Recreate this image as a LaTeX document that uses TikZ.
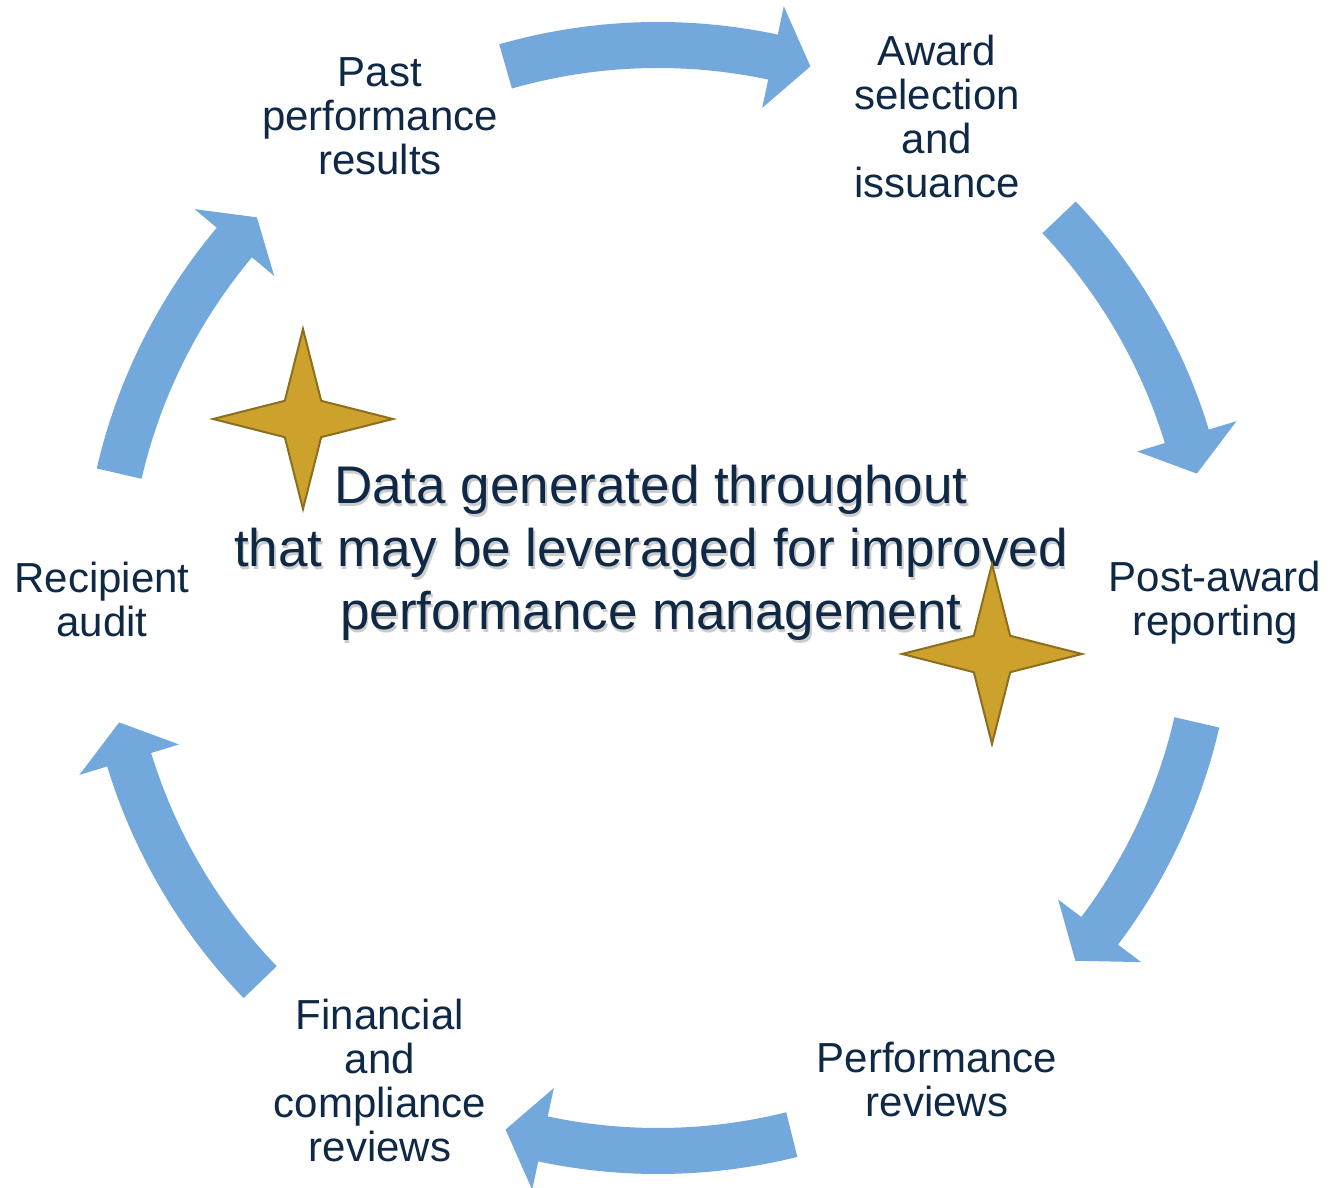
\documentclass[tikz,border=0pt]{standalone}
\usepackage{fontspec}
\setmainfont{Liberation Sans}
\usetikzlibrary{shapes.geometric}
\definecolor{arrowblue}{RGB}{114,168,219}
\definecolor{textnavy}{RGB}{14,40,70}
\definecolor{stargold}{RGB}{204,162,44}
\definecolor{stardark}{RGB}{140,110,30}

\begin{document}
\begin{tikzpicture}[x=0.5pt, y=0.5pt, stage node/.style={align=center, inner sep=0pt, text=textnavy, font=\fontsize{21}{22}\selectfont}, big text/.style={align=center, inner sep=0pt, font=\fontsize{26.5}{31.5}\selectfont}, cycle arrow/.style={fill=arrowblue}, sparkle/.style={star, star points=4, star point ratio=3.5, minimum size=90pt, inner sep=0pt, fill=stargold, draw=stardark, line width=1pt}]

			\useasboundingbox (-658,-590) rectangle (670,598);

			% stages
			\node[stage node] (1) at (-278,482) {Past\\performance\\results};
			\node[stage node] (2) at (279,482) {Award\\selection\\and\\issuance};
			\node[stage node] (3) at (557,-5) {Post-award\\reporting};
			\node[stage node] (4) at (279,-482) {Performance\\reviews};
			\node[stage node] (5) at (-278,-482) {Financial\\and\\compliance\\reviews};
			\node[stage node] (6) at (-556,-1) {Recipient\\audit};

			% arrows round the circle
			\fill[cycle arrow] (106:576) arc[start angle=106, end angle=78, radius=576] -- (78:605) -- (74:553) -- (78:501) -- (78:530) arc[start angle=78, end angle=106, radius=530] -- cycle;
			\fill[cycle arrow] (43.5:576) arc[start angle=43.5, end angle=17, radius=576] -- (17:605) -- (13:553) -- (17:501) -- (17:530) arc[start angle=17, end angle=43.5, radius=530] -- cycle;
			\fill[cycle arrow] (-13:576) arc[start angle=-13, end angle=-37, radius=576] -- (-37:605) -- (-41:553) -- (-37:501) -- (-37:530) arc[start angle=-37, end angle=-13, radius=530] -- cycle;
			\fill[cycle arrow] (-76:576) arc[start angle=-76, end angle=-102, radius=576] -- (-102:605) -- (-106:553) -- (-102:501) -- (-102:530) arc[start angle=-102, end angle=-76, radius=530] -- cycle;
			\fill[cycle arrow] (224:576) arc[start angle=224, end angle=197, radius=576] -- (197:605) -- (193:553) -- (197:501) -- (197:530) arc[start angle=197, end angle=224, radius=530] -- cycle;
			\fill[cycle arrow] (167:576) arc[start angle=167, end angle=140, radius=576] -- (140:605) -- (136.5:553) -- (140:501) -- (140:530) arc[start angle=140, end angle=167, radius=530] -- cycle;

			% centre text and its shadow
			\node[big text, text=black!20] at (-5.5,42.5) {Data generated throughout\\that may be leveraged for improved\\performance management};
			\node[big text, text=textnavy] (data) at (-7,45) {Data generated throughout\\that may be leveraged for improved\\performance management};

			\node[sparkle] (s1) at (-355,179) {};
			\node[sparkle] (s2) at (334,-56) {};

		\end{tikzpicture}
\end{document}
